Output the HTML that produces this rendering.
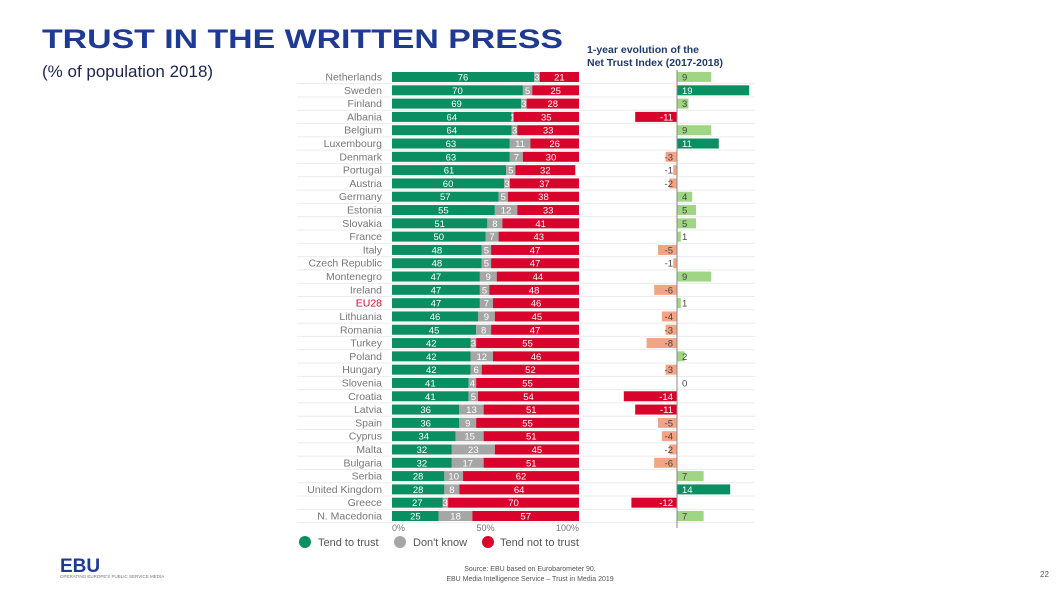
<!DOCTYPE html>
<html><head><meta charset="utf-8"><style>
body{margin:0;background:#fff;width:1058px;height:595px;overflow:hidden;font-family:"Liberation Sans",sans-serif}
svg{display:block}
</style></head><body>
<svg id="c" width="1058" height="595" viewBox="0 0 1058 595">
<text x="42" y="48" font-size="27" font-weight="bold" fill="#1f3a93" textLength="521" lengthAdjust="spacingAndGlyphs">TRUST IN THE WRITTEN PRESS</text>
<text x="42" y="77" font-size="17" fill="#1c2550">(% of population 2018)</text>
<text x="587" y="53" font-size="10.5" font-weight="bold" fill="#1f3a6e">1-year evolution of the</text>
<text x="587" y="66" font-size="10.5" font-weight="bold" fill="#1f3a6e">Net Trust Index (2017-2018)</text>
<g id="plot"></g>
<g>
<circle cx="305" cy="542" r="6" fill="#0a8f62"/>
<text x="318" y="546" font-size="11" fill="#555">Tend to trust</text>
<circle cx="400" cy="542" r="6" fill="#a6a6a6"/>
<text x="413" y="546" font-size="11" fill="#555">Don't know</text>
<circle cx="488" cy="542" r="6" fill="#d9042b"/>
<text x="500" y="546" font-size="11" fill="#555">Tend not to trust</text>
</g>
<text x="60" y="572" font-size="19" font-weight="bold" fill="#1f3a93">EBU</text>
<text x="60" y="578" font-size="4.5" fill="#777">OPERATING EUROPE'S PUBLIC SERVICE MEDIA</text>
<text x="530" y="571" font-size="7" fill="#555" text-anchor="middle">Source: EBU based on Eurobarometer 90.</text>
<text x="530" y="581" font-size="7" fill="#555" text-anchor="middle">EBU Media Intelligence Service – Trust in Media 2019</text>
<text x="1040" y="577" font-size="8" fill="#555">22</text>
</svg>
<script>
const countries=["Netherlands","Sweden","Finland","Albania","Belgium","Luxembourg","Denmark","Portugal","Austria","Germany","Estonia","Slovakia","France","Italy","Czech Republic","Montenegro","Ireland","EU28","Lithuania","Romania","Turkey","Poland","Hungary","Slovenia","Croatia","Latvia","Spain","Cyprus","Malta","Bulgaria","Serbia","United Kingdom","Greece","N. Macedonia"];
const trust=[76,70,69,64,64,63,63,61,60,57,55,51,50,48,48,47,47,47,46,45,42,42,42,41,41,36,36,34,32,32,28,28,27,25];
const dontKnow=[3,5,3,1,3,11,7,5,3,5,12,8,7,5,5,9,5,7,9,8,3,12,6,4,5,13,9,15,23,17,10,8,3,18];
const notTrust=[21,25,28,35,33,26,30,32,37,38,33,41,43,47,47,44,48,46,45,47,55,46,52,55,54,51,55,51,45,51,62,64,70,57];
const netChange=[9,19,3,-11,9,11,-3,-1,-2,4,5,5,1,-5,-1,9,-6,1,-4,-3,-8,2,-3,0,-14,-11,-5,-4,-2,-6,7,14,-12,7];
const xTicks=[0,50,100];

const NS="http://www.w3.org/2000/svg";
const g=document.getElementById('plot');
const x0=392,x1=579,y0=77,step=(516-77)/33,bh=10;
const xs=v=>x0+(x1-x0)*v/100;
const ax=677,ux=3.8;
const xn=v=>ax+v*ux;
function mk(t,a){const e=document.createElementNS(NS,t);for(const k in a)e.setAttribute(k,a[k]);g.appendChild(e);return e;}
countries.forEach((c,i)=>{
  const y=y0+i*step;
  const ln=mk('line',{x1:297,x2:755,y1:y+step/2,y2:y+step/2,stroke:'#ececec','stroke-width':1});
  
  
  const lb=mk('text',{x:382,y:y+3.5,'font-size':10.5,'text-anchor':'end',fill:c==='EU28'?'#d9042b':'#777'});
  lb.textContent=c;
  
  
  const segs=[[0,trust[i],'#0a8f62'],[trust[i],trust[i]+dontKnow[i],'#a6a6a6'],[trust[i]+dontKnow[i],trust[i]+dontKnow[i]+notTrust[i],'#d9042b']];
  const names=['bar-trust','bar-dontknow','bar-nottrust'];
  const vals=[trust[i],dontKnow[i],notTrust[i]];
  segs.forEach((s,j)=>{
    const r=mk('rect',{x:xs(s[0]),y:y-bh/2,width:Math.max(0,xs(s[1])-xs(s[0])),height:bh,fill:s[2]});
    
    
    const t=mk('text',{x:(xs(s[0])+xs(s[1]))/2,y:y+3.5,'font-size':9.5,'text-anchor':'middle',fill:'#fff'});
    t.textContent=vals[j];
    
    
  });
  const v=netChange[i];
  const col=v>=10?'#0a8f62':v>0?'#9fd583':v<=-10?'#d9042b':'#f4a385';
  const nb=mk('rect',{x:Math.min(xn(v),ax),y:y-bh/2,width:Math.abs(v)*ux,height:bh,fill:col});
  
  
  const nt=mk('text',{x:v>=0?ax+5:ax-4,y:y+3.5,'font-size':9.5,'text-anchor':v>=0?'start':'end',fill:(v>=10||v<=-10)?'#fff':'#444'});
  nt.textContent=v;
  
  
});
const axl=mk('line',{x1:ax,x2:ax,y1:70,y2:528,stroke:'#888','stroke-width':1});


xTicks.forEach(t=>{
  const e=mk('text',{x:xs(t),y:531,'font-size':9,'text-anchor':t===0?'start':t===100?'end':'middle',fill:'#777'});
  e.textContent=t+'%';
  
  
});
</script>
</body></html>
